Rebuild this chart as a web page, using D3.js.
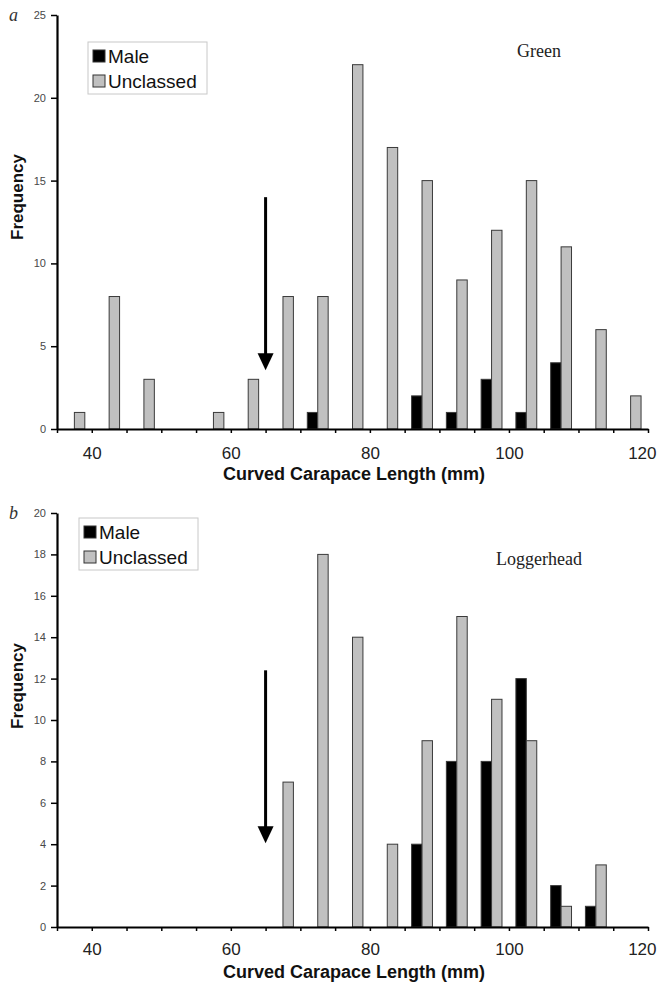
<!DOCTYPE html>
<html>
<head>
<meta charset="utf-8">
<script src="https://cdn.jsdelivr.net/npm/d3@7"></script>
<style>
  body { margin: 0; background: #fff; }
  svg { display: block; }
</style>
</head>
<body>
<script>
var width = 657, height = 983;

// bin centres (mm), 5 mm bins
var bins = [37.5, 42.5, 47.5, 52.5, 57.5, 62.5, 67.5, 72.5, 77.5, 82.5, 87.5, 92.5, 97.5, 102.5, 107.5, 112.5, 117.5];
var series = ['Male', 'Unclassed'];

var green_male      = [0, 0, 0, 0, 0, 0, 0, 1, 0, 0, 2, 1, 3, 1, 4, 0, 0];
var green_unclassed = [1, 8, 3, 0, 1, 3, 8, 8, 22, 17, 15, 9, 12, 15, 11, 6, 2];

var logger_male      = [0, 0, 0, 0, 0, 0, 0, 0, 0, 0, 4, 8, 8, 12, 2, 1, 0];
var logger_unclassed = [0, 0, 0, 0, 0, 0, 7, 18, 14, 4, 9, 15, 11, 9, 1, 3, 0];

var x_ticks = [35, 40, 45, 50, 55, 60, 65, 70, 75, 80, 85, 90, 95, 100, 105, 110, 115, 120];
var x_labels = [40, 60, 80, 100, 120];

var panels = [
    { id: 'a', title: 'Green', male: green_male, unclassed: green_unclassed,
      ymax: 25, ystep: 5, top: 15, bottom: 429, arrow: [14, 3.55],
      label_pad: 14, freq_y: 197, title_y: 57, legend: [88, 42] },
    { id: 'b', title: 'Loggerhead', male: logger_male, unclassed: logger_unclassed,
      ymax: 20, ystep: 2, top: 513, bottom: 927, arrow: [12.4, 4.05],
      label_pad: 12, freq_y: 686, title_y: 565, legend: [79, 518] }
];

var colors = { Male: '#000', Unclassed: '#c0c0c0' };

var svg = d3.select('body').append('svg')
    .attr('width', width)
    .attr('height', height);

var x = d3.scaleLinear().domain([35, 120]).range([57, 648]);
var sub = d3.scaleBand().domain(series).range([-1.5, 1.5]);
var bar_w = x(35 + sub.bandwidth()) - x(35);

panels.forEach(function(p) {
    var g = svg.append('g').attr('id', 'panel_' + p.id);
    var y = d3.scaleLinear().domain([0, p.ymax]).range([p.bottom, p.top]);

    var rows = [];
    bins.forEach(function(c, i) {
        if (p.male[i] > 0) rows.push({ c: c, s: 'Male', v: p.male[i] });
        if (p.unclassed[i] > 0) rows.push({ c: c, s: 'Unclassed', v: p.unclassed[i] });
    });

    g.selectAll('rect.bar')
        .data(rows)
        .enter()
        .append('rect')
        .attr('class', 'bar')
        .attr('x', function(d) { return x(d.c + sub(d.s)); })
        .attr('width', bar_w)
        .attr('y', function(d) { return y(d.v); })
        .attr('height', function(d) { return y(0) - y(d.v); })
        .attr('fill', function(d) { return colors[d.s]; })
        .attr('stroke', '#3a3a3a')
        .attr('stroke-width', 1);

    // y axis
    var yaxis = g.append('g')
        .attr('transform', `translate(${x(35)},0)`)
        .call(d3.axisLeft(y).tickValues(d3.range(0, p.ymax + 1, p.ystep)).tickSize(6).tickSizeOuter(0).tickPadding(5));
    yaxis.select('.domain').attr('stroke', '#000').attr('stroke-width', 2.2);
    yaxis.selectAll('.tick line').attr('stroke', '#000').attr('stroke-width', 1.5);
    yaxis.selectAll('.tick text')
        .style('font-family', 'Liberation Sans, Arial, sans-serif')
        .style('font-size', '11px')
        .attr('fill', '#484848');

    // x axis
    var xaxis = g.append('g')
        .attr('transform', `translate(0,${y(0)})`)
        .call(d3.axisBottom(x).tickValues(x_ticks).tickSize(4).tickSizeOuter(0).tickPadding(p.label_pad)
            .tickFormat(function(d) { return x_labels.indexOf(d) >= 0 ? d : ''; }));
    xaxis.select('.domain').attr('stroke', '#000').attr('stroke-width', 2.2);
    xaxis.selectAll('.tick line').attr('stroke', '#000').attr('stroke-width', 1.5);
    xaxis.selectAll('.tick text')
        .style('font-family', 'Liberation Sans, Arial, sans-serif')
        .style('font-size', '17px')
        .attr('fill', '#222')
        // last label sits at the right edge of the page; keep it inside
        .attr('text-anchor', function(d) { return d === 120 ? 'end' : 'middle'; })
        .attr('dx', function(d) { return d === 120 ? 8 : 0; });

    g.append('text')
        .attr('x', 354)
        .attr('y', y(0) + 51)
        .attr('text-anchor', 'middle')
        .style('font-family', 'Liberation Sans, Arial, sans-serif')
        .style('font-weight', 700)
        .style('font-size', '18px')
        .attr('fill', '#111')
        .text('Curved Carapace Length (mm)');

    g.append('text')
        .attr('transform', `translate(23,${p.freq_y}) rotate(-90)`)
        .attr('text-anchor', 'middle')
        .style('font-family', 'Liberation Sans, Arial, sans-serif')
        .style('font-weight', 700)
        .style('font-size', '17px')
        .attr('fill', '#111')
        .text('Frequency');

    // panel letter
    g.append('text')
        .attr('x', 9)
        .attr('y', p.top + 6)
        .style('font-family', 'Liberation Serif, Times New Roman, serif')
        .style('font-style', 'italic')
        .style('font-size', '18px')
        .attr('fill', '#333')
        .text(p.id);

    // species title
    g.append('text')
        .attr('x', 539)
        .attr('y', p.title_y)
        .attr('text-anchor', 'middle')
        .style('font-family', 'Liberation Serif, Times New Roman, serif')
        .style('font-size', '18px')
        .attr('fill', '#222')
        .text(p.title);

    // arrow at 65 mm
    var ax = x(65);
    g.append('line')
        .attr('x1', ax).attr('x2', ax)
        .attr('y1', y(p.arrow[0])).attr('y2', y(p.arrow[1]) - 14)
        .attr('stroke', '#000').attr('stroke-width', 3);
    g.append('path')
        .attr('d', `M${ax - 8},${y(p.arrow[1]) - 17} L${ax + 8},${y(p.arrow[1]) - 17} L${ax},${y(p.arrow[1])} Z`)
        .attr('fill', '#000');

    // legend
    var legend = g.append('g').attr('transform', `translate(${p.legend[0]},${p.legend[1]})`);
    legend.append('rect')
        .attr('width', 119).attr('height', 52)
        .attr('fill', '#fff')
        .attr('stroke', '#c8c8c8').attr('stroke-width', 1);
    series.forEach(function(s, i) {
        legend.append('rect')
            .attr('x', 5).attr('y', 8 + i * 25)
            .attr('width', 12).attr('height', 12)
            .attr('fill', colors[s])
            .attr('stroke', '#333').attr('stroke-width', 1);
        legend.append('text')
            .attr('x', 20).attr('y', 21 + i * 25)
            .style('font-family', 'Liberation Sans, Arial, sans-serif')
            .style('font-size', '19px')
            .attr('fill', '#111')
            .text(s);
    });
});
</script>
</body>
</html>
